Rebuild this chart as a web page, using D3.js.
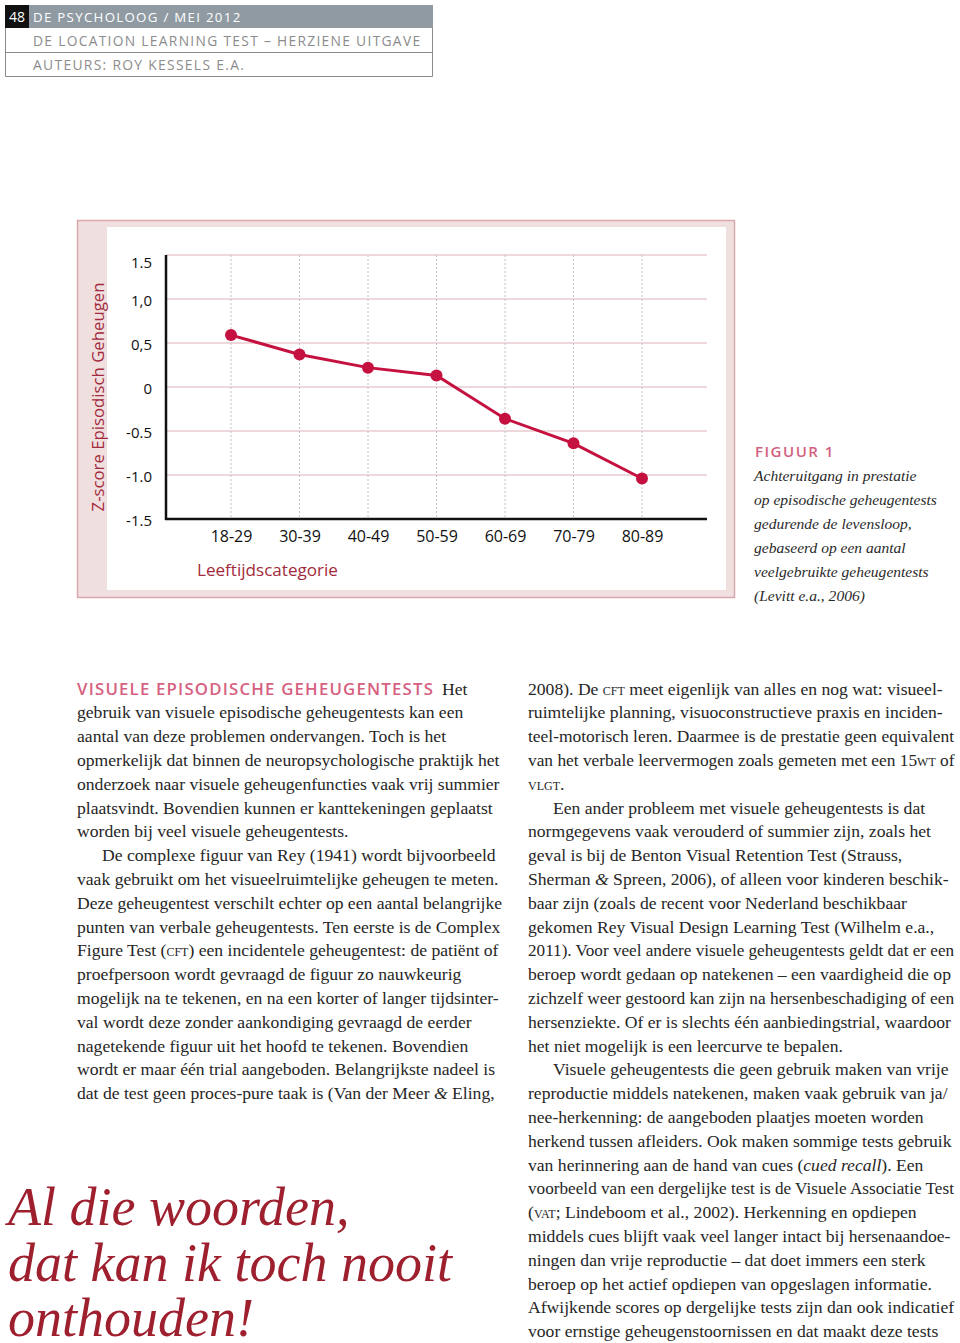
<!DOCTYPE html>
<html><head><meta charset="utf-8">
<script src="https://cdn.jsdelivr.net/npm/d3@7"></script>
<style>html,body{margin:0;padding:0;background:#fff;} svg{display:block}</style>
</head><body>
<script>
// ---- chart data ----
const categories = ["18-29","30-39","40-49","50-59","60-69","70-79","80-89"];
const zscores = [0.59, 0.37, 0.22, 0.13, -0.36, -0.64, -1.04];
const yTickValues = [1.5, 1.0, 0.5, 0, -0.5, -1.0, -1.5];
const yTickLabels = ["1.5","1,0","0,5","0","-0.5","-1.0","-1.5"];
const yTitle = "Z-score Episodisch Geheugen";
const xTitle = "Leeftijdscategorie";

// ---- page texts ----
const headerLines = ["DE PSYCHOLOOG / MEI 2012","DE LOCATION LEARNING TEST \u2013 HERZIENE UITGAVE","AUTEURS: ROY KESSELS E.A."];
const captionTitle = "FIGUUR 1";
const captionLines = ["Achteruitgang in prestatie","op episodische geheugentests","gedurende de levensloop,","gebaseerd op een aantal","veelgebruikte geheugentests","(Levitt e.a., 2006)"];
const leftHeading = "VISUELE EPISODISCHE GEHEUGENTESTS";
const leftLines = [
 " Het",
 "gebruik van visuele episodische geheugentests kan een",
 "aantal van deze problemen ondervangen. Toch is het",
 "opmerkelijk dat binnen de neuropsychologische praktijk het",
 "onderzoek naar visuele geheugenfuncties vaak vrij summier",
 "plaatsvindt. Bovendien kunnen er kanttekeningen geplaatst",
 "worden bij veel visuele geheugentests.",
 ">De complexe figuur van Rey (1941) wordt bijvoorbeeld",
 "vaak gebruikt om het visueelruimtelijke geheugen te meten.",
 "Deze geheugentest verschilt echter op een aantal belangrijke",
 "punten van verbale geheugentests. Ten eerste is de Complex",
 "Figure Test ({sc:cft}) een incidentele geheugentest: de patiënt of",
 "proefpersoon wordt gevraagd de figuur zo nauwkeurig",
 "mogelijk na te tekenen, en na een korter of langer tijdsinter-",
 "val wordt deze zonder aankondiging gevraagd de eerder",
 "nagetekende figuur uit het hoofd te tekenen. Bovendien",
 "wordt er maar één trial aangeboden. Belangrijkste nadeel is",
 "dat de test geen proces-pure taak is (Van der Meer {i:&} Eling,"
];
const rightLines = [
 "2008). De {sc:cft} meet eigenlijk van alles en nog wat: visueel-",
 "ruimtelijke planning, visuoconstructieve praxis en inciden-",
 "teel-motorisch leren. Daarmee is de prestatie geen equivalent",
 "van het verbale leervermogen zoals gemeten met een 15{sc:wt} of",
 "{sc:vlgt}.",
 ">Een ander probleem met visuele geheugentests is dat",
 "normgegevens vaak verouderd of summier zijn, zoals het",
 "geval is bij de Benton Visual Retention Test (Strauss,",
 "Sherman {i:&} Spreen, 2006), of alleen voor kinderen beschik-",
 "baar zijn (zoals de recent voor Nederland beschikbaar",
 "gekomen Rey Visual Design Learning Test (Wilhelm e.a.,",
 "2011). Voor veel andere visuele geheugentests geldt dat er een",
 "beroep wordt gedaan op natekenen \u2013 een vaardigheid die op",
 "zichzelf weer gestoord kan zijn na hersenbeschadiging of een",
 "hersenziekte. Of er is slechts één aanbiedingstrial, waardoor",
 "het niet mogelijk is een leercurve te bepalen.",
 ">Visuele geheugentests die geen gebruik maken van vrije",
 "reproductie middels natekenen, maken vaak gebruik van ja/",
 "nee-herkenning: de aangeboden plaatjes moeten worden",
 "herkend tussen afleiders. Ook maken sommige tests gebruik",
 "van herinnering aan de hand van cues ({i:cued recall}). Een",
 "voorbeeld van een dergelijke test is de Visuele Associatie Test",
 "({sc:vat}; Lindeboom et al., 2002). Herkenning en opdiepen",
 "middels cues blijft vaak veel langer intact bij hersenaandoe-",
 "ningen dan vrije reproductie \u2013 dat doet immers een sterk",
 "beroep op het actief opdiepen van opgeslagen informatie.",
 "Afwijkende scores op dergelijke tests zijn dan ook indicatief",
 "voor ernstige geheugenstoornissen en dat maakt deze tests"
];
const quoteLines = ["Al die woorden,","dat kan ik toch nooit","onthouden!"];

const W = 960, H = 1343;
const SANS = "'Open Sans', 'Noto Sans', sans-serif";
const SERIF = "'Liberation Serif', 'DejaVu Serif', serif";
const svg = d3.select("body").append("svg").attr("width", W).attr("height", H);

function fit(sel, target) {
  const fs = parseFloat(sel.attr("font-size"));
  const w = sel.node().getComputedTextLength();
  sel.attr("font-size", (fs * target / w).toFixed(2));
  return fs * target / w;
}

// ---- header ----
const hdr = svg.append("g");
hdr.append("rect").attr("x",5).attr("y",5).attr("width",428).attr("height",23).attr("fill","#8f9aa3");
hdr.append("rect").attr("x",5).attr("y",5).attr("width",24).attr("height",23).attr("fill","#111");
hdr.append("text").attr("x",17).attr("y",22).attr("text-anchor","middle").attr("font-family",SANS)
  .attr("font-size",14).attr("fill","#fff").text("48");
hdr.append("path").attr("d","M5.5,28V76.5H432.5V28M5.5,52.5H432.5").attr("fill","none").attr("stroke","#8a8a8a").attr("stroke-width",1);
const hdrTargets = [207, 388, 212], hdrY = [22, 46, 70];
headerLines.forEach((t,i)=>{
  const s = hdr.append("text").attr("x",33).attr("y",hdrY[i]).attr("font-family",SANS).attr("font-size",14)
    .attr("letter-spacing","1.3px").attr("fill", i===0?"#fff":"#8c8c8c").text(t);
  fit(s, hdrTargets[i]);
});

// ---- chart frame ----
const fr = svg.append("g");
fr.append("rect").attr("x",77.5).attr("y",220.5).attr("width",657).attr("height",377)
  .attr("fill","#f0dfdf").attr("stroke","#dba7ad").attr("stroke-width",1.5);
fr.append("rect").attr("x",107).attr("y",227).attr("width",619).attr("height",363).attr("fill","#fff");

const x = d3.scalePoint().domain(categories).range([231, 642]);
const y = d3.scaleLinear().domain([-1.5, 1.5]).range([519, 255]);
const plotL = 166, plotR = 707;

const g = svg.append("g");
g.append("g").selectAll("line").data(yTickValues.filter(v=>v>-1.5)).join("line")
  .attr("x1",plotL).attr("x2",plotR).attr("y1",d=>y(d)).attr("y2",d=>y(d))
  .attr("stroke","#dfb1b8").attr("stroke-width",1);
g.append("g").selectAll("line").data(categories).join("line")
  .attr("x1",d=>x(d)).attr("x2",d=>x(d)).attr("y1",y(1.5)).attr("y2",y(-1.5))
  .attr("stroke","#c9c0c0").attr("stroke-width",1).attr("stroke-dasharray","2,2");

const yAxis = d3.axisLeft(y).tickValues(yTickValues).tickSize(0).tickPadding(14)
  .tickFormat((d,i)=>yTickLabels[i]);
const ya = g.append("g").attr("transform",`translate(${plotL},0)`).call(yAxis);
ya.select(".domain").remove();
ya.selectAll("text").attr("font-family",SANS).attr("font-size",15).attr("fill","#111")
  .attr("dy",(d,i)=> i===0 ? "0.8em" : "0.45em");
g.append("line").attr("x1",plotL).attr("x2",plotL).attr("y1",y(1.5)).attr("y2",y(-1.5)+1)
  .attr("stroke","#111").attr("stroke-width",2.5);

const xAxis = d3.axisBottom(x).tickSize(0).tickPadding(12);
const xa = g.append("g").attr("transform",`translate(0,${y(-1.5)})`).call(xAxis);
xa.select(".domain").remove();
xa.selectAll("text").attr("font-family",SANS).attr("font-size",16).attr("fill","#111");
g.append("line").attr("x1",plotL-1).attr("x2",plotR).attr("y1",y(-1.5)).attr("y2",y(-1.5))
  .attr("stroke","#111").attr("stroke-width",2.5);

const yt = g.append("text").attr("transform","translate(97,397) rotate(-90)").attr("text-anchor","middle")
  .attr("dominant-baseline","central").attr("font-family",SANS).attr("font-size",17).attr("fill","#a32a3c").text(yTitle);
fit(yt, 229);
const xt = g.append("text").attr("x",197).attr("y",576).attr("font-family",SANS).attr("font-size",17)
  .attr("fill","#a32a3c").text(xTitle);
fit(xt, 141);

const data = categories.map((c,i)=>({c, v: zscores[i]}));
g.append("path").datum(data).attr("fill","none").attr("stroke","#c5113f").attr("stroke-width",3)
  .attr("d", d3.line().x(d=>x(d.c)).y(d=>y(d.v)));
g.selectAll("circle").data(data).join("circle").attr("cx",d=>x(d.c)).attr("cy",d=>y(d.v)).attr("r",6)
  .attr("fill","#c5113f");

// ---- caption ----
const cap = svg.append("g");
const ct = cap.append("text").attr("x",755).attr("y",457).attr("font-family",SANS).attr("font-size",15)
  .attr("font-weight",600).attr("letter-spacing","1.5px").attr("fill","#d3607e").text(captionTitle);
fit(ct, 80);
const capEls = captionLines.map((t,i)=>cap.append("text").attr("x",754).attr("y",481+i*23.9)
  .attr("font-family",SERIF).attr("font-style","italic").attr("font-size",16).attr("fill","#2a2a2a").text(t));
const capFs = fit(capEls[1], 183);
capEls.forEach(e=>e.attr("font-size",capFs.toFixed(2)));

// ---- body text ----
function richLine(parent, str, xx, yy, fs, maxRight) {
  let indent = 0;
  if (str.startsWith(">")) { indent = 25; str = str.slice(1); }
  const t = parent.append("text").attr("x", xx + indent).attr("y", yy)
    .attr("font-family",SERIF).attr("font-size",fs).attr("fill","#262626").attr("xml:space","preserve");
  const re = /\{(sc|i):([^}]*)\}/g;
  let last = 0, m;
  while ((m = re.exec(str)) !== null) {
    if (m.index > last) t.append("tspan").text(str.slice(last, m.index));
    const sp = t.append("tspan").text(m[2]);
    if (m[1] === "sc") sp.style("font-variant","small-caps");
    else sp.attr("font-style","italic");
    last = m.index + m[0].length;
  }
  if (last < str.length) t.append("tspan").text(str.slice(last));
  if (maxRight) {
    const maxW = maxRight - (xx + indent);
    const w = t.node().getComputedTextLength();
    if (w > maxW) t.attr("font-size", (fs * maxW / w).toFixed(2));
  }
  return t;
}
const body = svg.append("g");
const probe = richLine(body, leftLines[3], 77, -100, 17);
const bodyFs = fit(probe, 423);
probe.remove();
const lh = 23.8, y0 = 694.5;

const hd = body.append("text").attr("x",77).attr("y",y0).attr("font-family",SANS).attr("font-size",15)
  .attr("font-weight",600).attr("letter-spacing","1.2px").attr("fill","#d6607f").text(leftHeading);
fit(hd, 362);
leftLines.forEach((s,i)=>{
  if (i===0) {
    body.append("text").attr("x",442).attr("y",y0).attr("font-family",SERIF).attr("font-size",bodyFs)
      .attr("fill","#262626").text(s.trim());
  } else richLine(body, s, 77, y0 + i*lh, bodyFs, 502);
});
rightLines.forEach((s,i)=> richLine(body, s, 528, y0 + i*lh, bodyFs, 954));

// ---- pull quote ----
const qEls = quoteLines.map((t,i)=>svg.append("text").attr("x",8).attr("y",1225+i*55.5)
  .attr("font-family",SERIF).attr("font-style","italic").attr("font-size",52).attr("fill","#9e1f2e").text(t));
const qFs = fit(qEls[1], 444);
qEls.forEach(e=>e.attr("font-size",qFs.toFixed(2)));
</script>
</body></html>
